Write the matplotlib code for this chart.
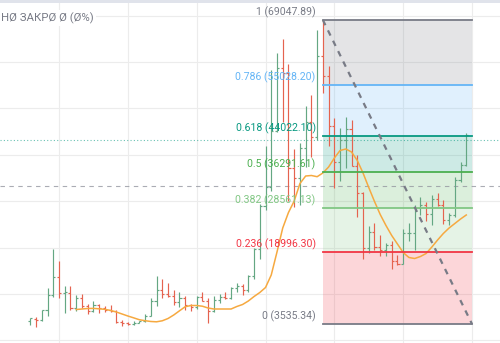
import numpy as np
import pandas as pd
from matplotlib import pyplot as plt
from matplotlib.patches import Rectangle

# monthly OHLC bars with a fibonacci retracement drawn over them
plt.rcParams['font.family'] = ['Roboto', 'DejaVu Sans']

months = pd.period_range('2017-08', '2023-12', freq='M').strftime('%Y-%m').tolist()

opens = [4261, 4689, 4378, 6463, 9837, 13716, 10285, 10325, 6923, 9246, 7485, 6391,
         7735, 7011, 6627, 6370, 4041, 3701, 3434, 3824, 4102, 5322, 8556, 10854,
         10086, 9588, 8289, 9140, 7540, 7195, 9351, 8523, 6412, 8620, 9448, 9138,
         11335, 11649, 10776, 13791, 19695, 28923, 33092, 45134, 58739, 57697, 37253, 35044,
         41461, 47100, 43820, 61300, 56950, 46216, 38466, 43160, 45510, 37631, 31801, 19942,
         23297, 20049, 19423, 20491, 17165, 16541, 23125, 23141, 28465, 29233, 27210, 30472,
         29232, 25940, 26963, 34640, 37723]
highs = [4745, 4939, 6470, 11300, 19798, 17176, 11786, 11710, 9765, 10020, 7760, 8507,
         7750, 7410, 7680, 6588, 4312, 4069, 4198, 4140, 5600, 9074, 13970, 13130,
         12325, 10905, 10370, 9505, 7750, 9578, 10500, 9189, 9468, 10067, 10380, 11444,
         12468, 12050, 14100, 19863, 29300, 41950, 58352, 61844, 64854, 59592, 41330, 42448,
         50500, 52920, 67000, 69000, 59053, 47990, 45821, 48190, 47444, 40023, 31982, 24668,
         25212, 22799, 21085, 21480, 18387, 23960, 25250, 29185, 31000, 29820, 31431, 31804,
         30244, 27483, 35280, 38450, 44700]
lows = [3400, 2817, 4110, 5325, 9380, 9035, 6000, 6600, 6430, 7032, 5755, 6071,
        5880, 6100, 6200, 3652, 3156, 3349, 3373, 3670, 4068, 5320, 7440, 9080,
        9320, 7710, 7300, 6515, 6435, 6871, 8450, 3782, 6150, 8117, 8833, 8893,
        10518, 9825, 10374, 13195, 17572, 28130, 32296, 44950, 47044, 30000, 28805, 29278,
        37332, 39600, 43283, 53256, 42000, 32917, 34322, 37155, 37578, 26700, 17622, 18782,
        19520, 18125, 18190, 15476, 16256, 16499, 21351, 19549, 26942, 25811, 24800, 28861,
        25166, 24901, 26538, 34097, 37629]
closes = [4724, 4378, 6463, 9838, 13716, 10285, 10326, 6923, 9246, 7485, 6390, 7730,
          7011, 6626, 6372, 4041, 3742, 3437, 3826, 4103, 5320, 8554, 10854, 10085,
          9588, 8289, 9140, 7541, 7195, 9352, 8523, 6410, 8621, 9448, 9138, 11335,
          11650, 10776, 13791, 19695, 28923, 33092, 45136, 58740, 57694, 37253, 35045, 41461,
          47100, 43824, 61299, 56950, 46216, 38466, 43160, 45510, 37630, 31801, 19942, 23293,
          20050, 19423, 20491, 17164, 16542, 23125, 23141, 28465, 29233, 27210, 30472, 29232,
          25940, 26963, 34640, 37723, 44200]

# moving average, from 2018-04 to 2023-12
ma_start = '2018-04'
ma_values = [6660, 6770, 6880, 6900, 6810, 6700, 6450, 6120, 5690, 5260,
             4870, 4460, 4250, 4080, 4010, 4230, 4720, 5480, 6380, 7260,
             7520, 7520, 7370, 6980, 6770, 6770, 6770, 6770, 7310, 7740,
             8490, 9460, 10320, 11400, 14100, 19050, 24220, 27560, 30040, 33810,
             35430, 35540, 35280, 36080, 37370, 39310, 40930, 41250, 40600, 38770,
             36080, 32950, 29940, 27130, 24760, 22610, 20780, 18940, 17870, 17650,
             18080, 18730, 20130, 21640, 23040, 24220, 25190, 26160, 27030]

fib_ratios = [0, 0.236, 0.382, 0.5, 0.618, 0.786, 1]
fib_prices = [3535.34, 18996.30, 28561.13, 36291.61, 44022.10, 55028.20, 69047.89]
fib_colors = ['#787b86', '#f23645', '#81c784', '#4caf50', '#089981', '#64b5f6', '#787b86']
fib_from = '2021-11'
fib_months = 26

last_price = 43190
crosshair_price = 33170
legend_text = 'НØ ЗАКРØ Ø (Ø%)'

x = np.arange(len(months))
o = np.array(opens)
h = np.array(highs)
l = np.array(lows)
c = np.array(closes)

fig = plt.figure(figsize=(5.0, 3.43), dpi=100)
ax = fig.add_axes([0, 0, 1, 1])
ax.set_xlim(-5.29, 81.88)
ax.set_ylim(-557, 73358)

years = [i for i, m in enumerate(months) if m.endswith('-01')] + [len(months)]
ax.set_xticks(years)
ax.set_yticks(np.arange(0, 70001, 10000))
ax.tick_params(length=0, labelbottom=False, labelleft=False)
ax.grid(True, color='#ececec', lw=0.8)
ax.set_axisbelow(True)
for s in ax.spines.values():
    s.set_visible(False)

# fib zones
f0 = months.index(fib_from)
f1 = f0 + fib_months
for j in range(len(fib_prices) - 1):
    ax.add_patch(Rectangle((f0, fib_prices[j]), f1 - f0, fib_prices[j + 1] - fib_prices[j],
                           facecolor=fib_colors[j + 1], alpha=0.2, lw=0, zorder=1))

# ohlc bars
up = c >= o
col = np.where(up, '#64a783', '#e5634f')
w = 0.36
ax.vlines(x, l, h, colors=col, lw=0.85, zorder=3)
ax.hlines(o, x - w, x, colors=col, lw=0.85, zorder=3)
ax.hlines(c, x, x + w, colors=col, lw=0.85, zorder=3)

# moving average
m0 = months.index(ma_start)
ax.plot(x[m0:m0 + len(ma_values)], ma_values, color='#f6a940', lw=1.1, zorder=4)

# fib lines and labels
for r, p, fc in zip(fib_ratios, fib_prices, fib_colors):
    ax.plot([f0, f1], [p, p], color=fc, lw=1.3, zorder=5)
    ax.annotate(f"{r:g} ({p:.2f})", xy=(f0, p), xytext=(-5.2, 3.3), textcoords='offset points',
                ha='right', va='baseline', fontsize=7.6, color=fc, zorder=6)

ax.plot([f0, f1], [fib_prices[-1], fib_prices[0]], color='#787b86', lw=1.6,
        ls=(0, (2.6, 2.6)), zorder=6)

ax.axhline(last_price, color='#089981', lw=0.8, ls=(0, (1, 2)), alpha=0.6, zorder=2)
ax.axhline(crosshair_price, color='#9598a1', lw=0.8, ls=(0, (4, 4)), alpha=0.8, zorder=2)

ax.text(0.002, 1 - 18 / 343, legend_text, transform=ax.transAxes, ha='left', va='center',
        fontsize=8.2, color='#787b86', zorder=7,
        bbox=dict(facecolor='white', edgecolor='none', pad=1.5))

fig.patches.append(Rectangle((0, 1 - 3 / 343), 1, 3 / 343, transform=fig.transFigure,
                             facecolor='#e0e3eb', edgecolor='none'))

fig.savefig('out.png', dpi=100)
